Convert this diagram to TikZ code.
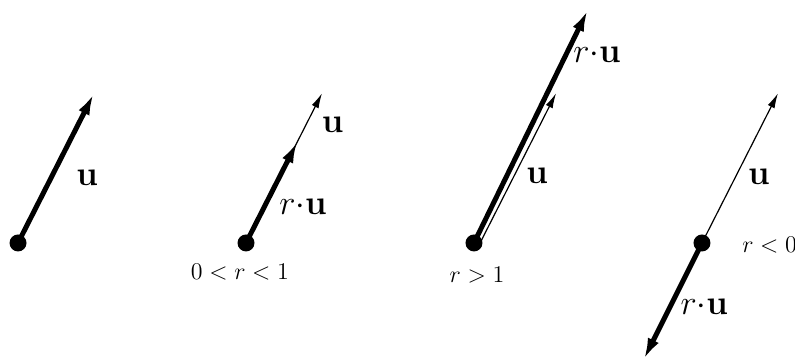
\documentclass[tikz,border=0pt]{standalone}
\usepackage{amsmath}
\usepackage{tikz}
\usetikzlibrary{arrows.meta,positioning,calc}

\begin{document}
\begin{tikzpicture}[x=38pt, y=38pt,
  vec/.style={-{Latex[length=7.5pt,width=3.8pt]}, line width=0.6pt},
  svec/.style={-{Latex[length=11pt,width=6pt]}, line width=2.5pt},
  dot/.style={circle, fill=black, inner sep=0pt, minimum size=8.5pt},
  lab/.style={font=\LARGE},
  cond/.style={font=\large}]
\useasboundingbox (-0.237,-1.579) rectangle (10.224,3.197);

% Panel A
\begin{scope}[shift={(0,0)}]
  \coordinate (o1) at (0,0);
  \coordinate (u1) at (1,1.97);
  \draw[svec] (o1) -- (u1);
  \node[dot] (d1) at (o1) {};
  \node[lab] (lu1) at (0.91,0.86) {$\mathbf{u}$};
\end{scope}

% Panel B
\begin{scope}[shift={(3,0)}]
  \coordinate (o2) at (0,0);
  \coordinate (u2) at (1,1.97);
  \coordinate (ru2) at (0.68,1.34);
  \draw[vec] (o2) -- (u2);
  \draw[svec] (o2) -- (ru2);
  \node[dot] (d2) at (o2) {};
  \node[lab] (lu2) at (1.14,1.55) {$\mathbf{u}$};
  \node[lab] (lru2) at (0.75,0.47) {$r{\cdot}\mathbf{u}$};
  \node[cond] (c2) at (-0.08,-0.38) {$0<r<1$};
\end{scope}

% Panel C
\begin{scope}[shift={(6,0)}]
  \coordinate (o3) at (0,0);
  \coordinate (s3) at (0.08,0);
  \coordinate (u3) at (1.08,1.97);
  \coordinate (ru3) at (1.5,3.07);
  \draw[svec] (o3) -- (ru3);
  \draw[vec] (s3) -- (u3);
  \node[dot] (d3) at (o3) {};
  \node[lab] (lu3) at (0.83,0.89) {$\mathbf{u}$};
  \node[lab] (lru3) at (1.62,2.47) {$r{\cdot}\mathbf{u}$};
  \node[cond] (c3) at (0.04,-0.42) {$r>1$};
\end{scope}

% Panel D
\begin{scope}[shift={(9,0)}]
  \coordinate (o4) at (0,0);
  \coordinate (u4) at (1,1.97);
  \coordinate (ru4) at (-0.77,-1.54);
  \draw[vec] (o4) -- (u4);
  \draw[svec] (o4) -- (ru4);
  \node[dot] (d4) at (o4) {};
  \node[lab] (lu4) at (0.75,0.87) {$\mathbf{u}$};
  \node[lab] (lru4) at (0.03,-0.84) {$r{\cdot}\mathbf{u}$};
  \node[cond] (c4) at (0.89,-0.03) {$r<0$};
\end{scope}
\end{tikzpicture}
\end{document}
